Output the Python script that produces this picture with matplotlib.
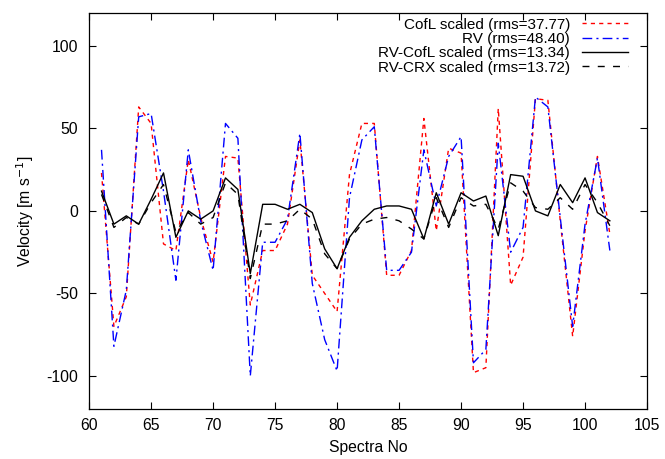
import numpy as np
import matplotlib
matplotlib.use("Agg")
import matplotlib.pyplot as plt

plt.rcParams['font.family'] = ['Liberation Sans', 'DejaVu Sans']
plt.rcParams['axes.unicode_minus'] = False

spectra = list(range(61, 103))

cofl = [23, -70, -52, 63, 53, -20, -24, 31, -4, -31,
        33, 32, -57, -24, -24, -8, 43, -39, -50, -61,
        22, 53, 53, -39, -39, -24, 56, -12, 38, 35,
        -98, -95, 62, -45, -28, 68, 67, -6, -76, -12,
        33, -14]

rv = [37, -82, -48, 57, 59, 12, -42, 37, -6, -36,
      53, 44, -100, -19, -19, -5, 47, -44, -78, -97,
      8, 43, 51, -36, -36, -25, 37, 3, 33, 45,
      -92, -84, 41, -25, -10, 69, 63, -4, -70, -8,
      32, -24]

rv_cofl = [12, -8, -3, -8, 7, 23, -16, 0, -5, 0,
           20, 13, -38, 4, 4, 1, 4, -1, -23, -35,
           -16, -6, 1, 3, 3, 1, -17, 11, -8, 11,
           6, 9, -15, 22, 21, 0, -3, 16, 5, 20,
           -1, -6]

rv_crx = [10, -10, -4, -8, 5, 16, -13, -1, -8, -4,
          17, 10, -41, -8, -8, -6, 1, -5, -26, -35,
          -17, -8, -5, -4, -6, -11, -17, 8, -10, 8,
          3, 4, -11, 17, 12, 2, 1, 8, 1, 16,
          5, -9]

labels = ['CofL scaled (rms=37.77)', 'RV (rms=48.40)',
          'RV-CofL scaled (rms=13.34)', 'RV-CRX scaled (rms=13.72)']

fs = 11.3

fig = plt.figure(figsize=(6.65, 4.59), dpi=100)
ax = fig.add_axes([0.134, 0.109, 0.839, 0.863])

ax.plot(spectra, cofl, color='red', lw=1.0, dashes=(3, 3), label=labels[0])
ax.plot(spectra, rv, color='blue', lw=1.0, dashes=(7, 3, 1.5, 3), label=labels[1])
ax.plot(spectra, rv_cofl, color='black', lw=1.0, label=labels[2])
ax.plot(spectra, rv_crx, color='black', lw=1.0, dashes=(5, 6), label=labels[3])

ax.set_xlim(60, 105)
ax.set_ylim(-120, 120)
ax.set_xticks(np.arange(60, 106, 5))
ax.set_yticks([-100, -50, 0, 50, 100])
ax.tick_params(direction='in', top=True, right=True, length=5, width=0.8,
               labelsize=fs)
ax.tick_params(axis='x', pad=6.5)
ax.tick_params(axis='y', pad=8)
for s in ax.spines.values():
    s.set_linewidth(0.9)

ax.set_xlabel('Spectra No', fontsize=fs, labelpad=5)
ax.set_ylabel('Velocity [m s$^{-1}$]', fontsize=fs, labelpad=7)

ax.legend(loc='upper right', bbox_to_anchor=(0.966, 0.988), frameon=False,
          markerfirst=False, fontsize=11, borderpad=0, borderaxespad=0,
          handlelength=3.0, handletextpad=0.8, labelspacing=0.02)

fig.savefig('out.png', dpi=100)
